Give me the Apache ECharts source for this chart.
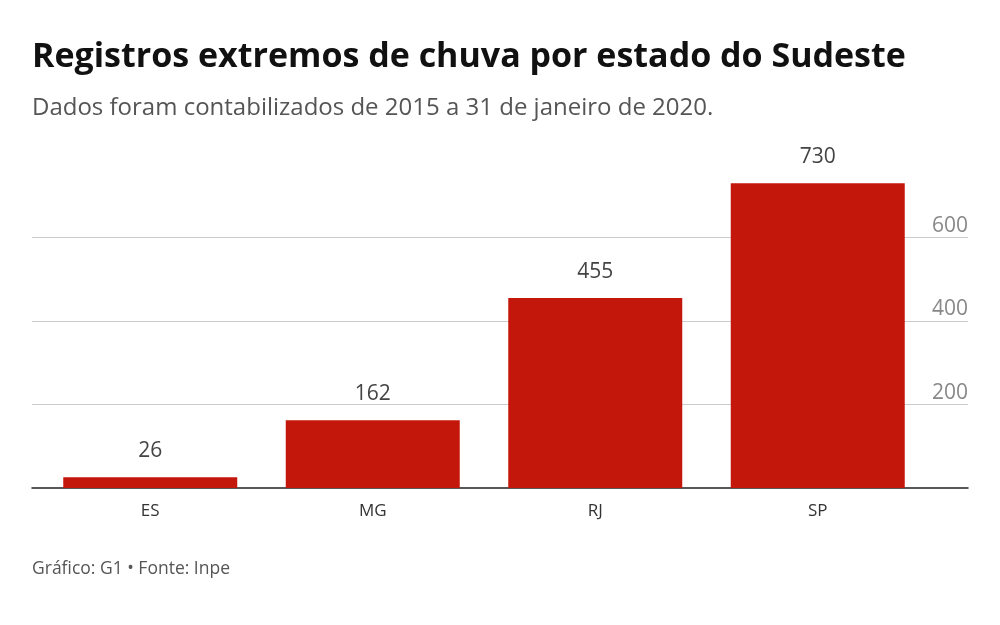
<!DOCTYPE html>
<html><head><meta charset="utf-8">
<script src="https://cdn.jsdelivr.net/npm/echarts@6/dist/echarts.min.js"></script>
<style>html,body{margin:0;padding:0;background:#fff}#c{width:1000px;height:625px}</style>
</head><body><div id="c"></div>
<script>
const categories = ['ES', 'MG', 'RJ', 'SP'];
const values = [26, 162, 455, 730];
const yTicks = [200, 400, 600];
const titleText = 'Registros extremos de chuva por estado do Sudeste';
const subtitleText = 'Dados foram contabilizados de 2015 a 31 de janeiro de 2020.';
const footerText = 'Gráfico: G1 • Fonte: Inpe';

const F = "'Open Sans', sans-serif";
const chart = echarts.init(document.getElementById('c'), null, {renderer: 'canvas'});
chart.setOption({
  animation: false,
  backgroundColor: '#fff',
  title: [
    {text: titleText, left: 32, top: 40, padding: 0, textStyle: {fontFamily: F, fontWeight: 'bold', fontSize: 34, color: '#111'}},
    {text: subtitleText, left: 32, top: 96, padding: 0, textStyle: {fontFamily: F, fontWeight: 'normal', fontSize: 24, color: '#555'}},
    {text: footerText, left: 32, top: 560, padding: 0, textStyle: {fontFamily: F, fontWeight: 'normal', fontSize: 17.5, color: '#555'}}
  ],
  grid: [
    {left: 32, right: 32, top: 154, bottom: 137},
    {left: 39, right: 71, top: 154, bottom: 137}
  ],
  xAxis: [
    {gridIndex: 0, type: 'category', data: [''], axisTick: {show: false}, axisLabel: {show: false},
     axisLine: {show: true, lineStyle: {color: '#222', width: 1.5}}},
    {gridIndex: 1, type: 'category', data: categories, axisTick: {show: false}, axisLine: {show: false},
     axisLabel: {fontFamily: F, fontSize: 17, color: '#333', margin: 15}}
  ],
  yAxis: [
    {gridIndex: 0, type: 'value', min: 0, max: 800, interval: 200, position: 'right',
     axisLine: {show: false}, axisTick: {show: false},
     splitLine: {show: true, showMinLine: false, showMaxLine: false, lineStyle: {color: '#ccc', width: 1}},
     axisLabel: {inside: true, margin: 0, verticalAlign: 'bottom', align: 'right', padding: [0, 0, 1, 0],
       fontFamily: F, fontSize: 21, color: '#888',
       formatter: v => yTicks.includes(v) ? String(v) : ''}},
    {gridIndex: 1, type: 'value', min: 0, max: 800, interval: 200, show: false, splitLine: {show: false}}
  ],
  series: [{
    type: 'bar', xAxisIndex: 1, yAxisIndex: 1, data: values, barWidth: 174,
    itemStyle: {color: '#c4170c'},
    label: {show: true, position: 'top', distance: 16, fontFamily: F, fontSize: 21, color: '#444'}
  }]
});
</script></body></html>
